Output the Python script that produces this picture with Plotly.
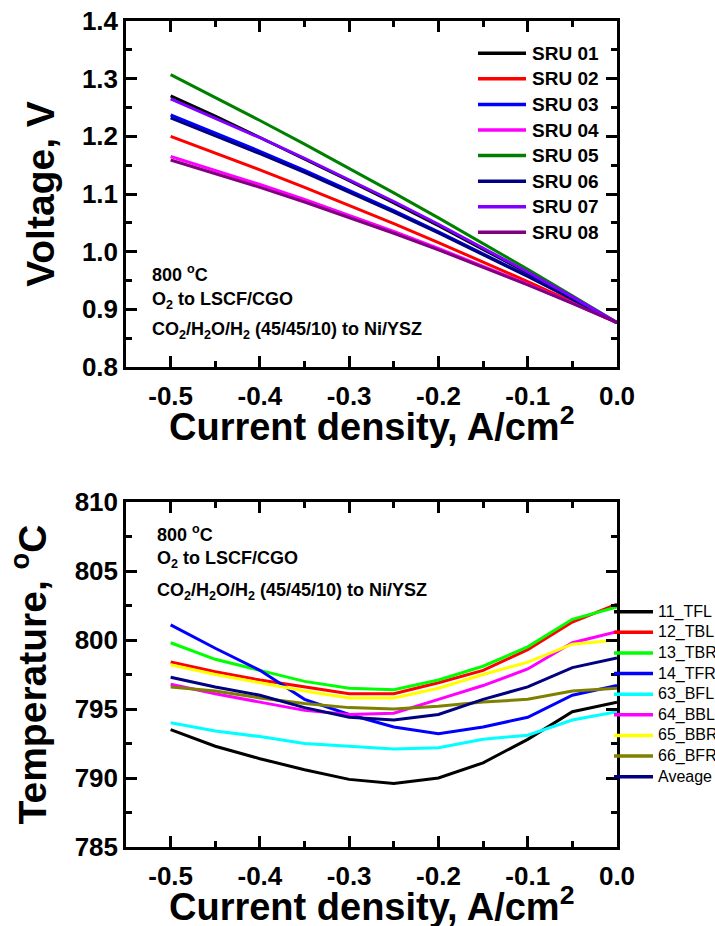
import plotly.graph_objects as go

W, H = 715, 926

# ---------------- data: top panel (voltage) ----------------
j_top = [-0.5, -0.45, -0.4, -0.35, -0.3, -0.25, -0.2, -0.15, -0.1, -0.05, 0.0]
sru_names = ["SRU 01", "SRU 02", "SRU 03", "SRU 04", "SRU 05", "SRU 06", "SRU 07", "SRU 08"]
sru_colors = ["#000000", "#FF0000", "#0000FF", "#FF00FF", "#008000", "#000080", "#8000FF", "#800080"]
sru01 = [1.270, 1.235, 1.198, 1.161, 1.123, 1.0845, 1.045, 1.004, 0.963, 0.920, 0.877]
sru02 = [1.200, 1.1713, 1.1418, 1.1115, 1.0804, 1.0485, 1.0158, 0.9823, 0.948, 0.9129, 0.877]
sru03 = [1.237, 1.206, 1.174, 1.1408, 1.1064, 1.071, 1.0344, 0.9968, 0.958, 0.918, 0.877]
sru04 = [1.165, 1.1412, 1.1164, 1.0904, 1.0632, 1.035, 1.0056, 0.9752, 0.9436, 0.9108, 0.877]
sru05 = [1.307, 1.2676, 1.2274, 1.1864, 1.1446, 1.102, 1.0586, 1.0144, 0.9694, 0.9236, 0.877]
sru06 = [1.232, 1.2015, 1.170, 1.1373, 1.1034, 1.0685, 1.0324, 0.9953, 0.957, 0.9175, 0.877]
sru07 = [1.265, 1.232, 1.1976, 1.162, 1.1252, 1.087, 1.0476, 1.0068, 0.9648, 0.9216, 0.877]
sru08 = [1.159, 1.1358, 1.1116, 1.0862, 1.0596, 1.032, 1.0032, 0.9734, 0.9424, 0.9102, 0.877]
sru_values = [sru01, sru02, sru03, sru04, sru05, sru06, sru07, sru08]

# ---------------- data: bottom panel (temperature) ----------------
j_bot = [-0.5, -0.45, -0.4, -0.35, -0.3, -0.25, -0.2, -0.15, -0.1, -0.05, 0.0]
tc_names = ["11_TFL", "12_TBL", "13_TBR", "14_TFR", "63_BFL", "64_BBL", "65_BBR", "66_BFR", "Aveage"]
tc_colors = ["#000000", "#FF0000", "#00FF00", "#0000FF", "#00FFFF", "#FF00FF", "#FFFF00", "#808000", "#000080"]
t11 = [793.5, 792.3, 791.4, 790.6, 789.9, 789.6, 790.0, 791.1, 792.8, 794.8, 795.5]
t12 = [798.4, 797.7, 797.1, 796.6, 796.1, 796.1, 796.9, 797.8, 799.3, 801.3, 802.6]
t13 = [799.8, 798.6, 797.8, 797.0, 796.5, 796.4, 797.1, 798.1, 799.5, 801.5, 802.4]
t14 = [801.1, 799.4, 797.8, 795.7, 794.6, 793.7, 793.2, 793.7, 794.4, 796.0, 796.7]
t63 = [794.0, 793.4, 793.0, 792.5, 792.3, 792.1, 792.2, 792.8, 793.1, 794.2, 794.8]
t64 = [796.8, 796.1, 795.5, 794.9, 794.6, 794.7, 795.7, 796.7, 797.9, 799.8, 800.6]
t65 = [798.2, 797.5, 796.9, 796.3, 795.8, 795.8, 796.5, 797.5, 798.4, 799.7, 800.0]
t66 = [796.6, 796.3, 795.8, 795.4, 795.1, 795.0, 795.2, 795.5, 795.7, 796.3, 796.5]
tavg = [797.3, 796.6, 796.0, 795.1, 794.4, 794.2, 794.6, 795.7, 796.6, 798.0, 798.7]
tc_values = [t11, t12, t13, t14, t63, t64, t65, t66, tavg]

x_ticks = [-0.5, -0.4, -0.3, -0.2, -0.1, 0.0]
x_ticktext = ["-0.5", "-0.4", "-0.3", "-0.2", "-0.1", "0.0"]
v_ticks = [0.8, 0.9, 1.0, 1.1, 1.2, 1.3, 1.4]
v_ticktext = ["0.8", "0.9", "1.0", "1.1", "1.2", "1.3", "1.4"]
t_ticks = [785, 790, 795, 800, 805, 810]
x_title = "Current density, A/cm<sup>2</sup>"

FONT = "Liberation Sans, Arial, sans-serif"


def px(x):
    return x / W


def py(y):
    return 1 - y / H


fig = go.Figure()
for name, col, vals in zip(sru_names, sru_colors, sru_values):
    fig.add_trace(go.Scatter(x=j_top, y=vals, mode="lines", name=name,
                             line=dict(color=col, width=3), showlegend=False,
                             xaxis="x", yaxis="y"))
for name, col, vals in zip(tc_names, tc_colors, tc_values):
    fig.add_trace(go.Scatter(x=j_bot, y=vals, mode="lines", name=name,
                             line=dict(color=col, width=3), showlegend=False,
                             xaxis="x2", yaxis="y2"))

xdom = [px(126), px(617)]
common_axis = dict(showline=True, linewidth=2.5, linecolor="black", mirror="allticks",
                   ticks="inside", ticklen=11, tickwidth=2.5, tickcolor="black",
                   showgrid=False, zeroline=False, automargin=False,
                   tickfont=dict(family=FONT, size=26, color="black", weight="bold"))
minor_x = dict(dtick=0.05, tick0=0, ticks="inside", ticklen=6, tickwidth=2.5, tickcolor="black")

fig.update_layout(
    width=W, height=H, margin=dict(l=0, r=0, t=0, b=0, autoexpand=False),
    paper_bgcolor="white", plot_bgcolor="white", showlegend=False,
    xaxis=dict(domain=xdom, anchor="y", range=[-0.55, 0.0], tickvals=x_ticks, ticktext=x_ticktext,
               minor=minor_x, ticklabelstandoff=4, **common_axis),
    yaxis=dict(domain=[py(367), py(21)], anchor="x", range=[0.8, 1.4], tickvals=v_ticks, ticktext=v_ticktext,
               minor=dict(dtick=0.05, tick0=0.8, ticks="inside", ticklen=6, tickwidth=2.5, tickcolor="black"),
               title=dict(text="Voltage, V", standoff=16,
                          font=dict(family=FONT, size=39, color="black", weight="bold")),
               **common_axis),
    xaxis2=dict(domain=xdom, anchor="y2", range=[-0.55, 0.0], tickvals=x_ticks, ticktext=x_ticktext,
                minor=minor_x, ticklabelstandoff=4, **common_axis),
    yaxis2=dict(domain=[py(847), py(502)], anchor="x2", range=[785, 810], tickvals=t_ticks,
                minor=dict(dtick=2.5, tick0=785, ticks="inside", ticklen=6, tickwidth=2.5, tickcolor="black"),
                title=dict(text="Temperature, <sup>o</sup>C", standoff=17,
                           font=dict(family=FONT, size=39, color="black", weight="bold")),
                **common_axis),
)

# x-axis titles (placed tight under the tick labels as in the reference)
for yy in [424, 904]:
    fig.add_annotation(text=x_title, xref="paper", yref="paper", x=px(371.5), y=py(yy),
                       xanchor="center", yanchor="middle", showarrow=False,
                       font=dict(family=FONT, size=38, color="black", weight="bold"))

# condition notes
notes = ["800 <sup>o</sup>C", "O<sub>2</sub> to LSCF/CGO", "CO<sub>2</sub>/H<sub>2</sub>O/H<sub>2</sub> (45/45/10) to Ni/YSZ"]
for txt, yy in zip(notes, [273, 300, 330]):
    fig.add_annotation(text=txt, xref="paper", yref="paper", x=px(150), y=py(yy), xanchor="left",
                       yanchor="middle", showarrow=False,
                       font=dict(family=FONT, size=18, color="black", weight="bold"))
for txt, yy in zip(notes, [533, 559, 591]):
    fig.add_annotation(text=txt, xref="paper", yref="paper", x=px(155), y=py(yy), xanchor="left",
                       yanchor="middle", showarrow=False,
                       font=dict(family=FONT, size=18, color="black", weight="bold"))

# legend, top panel (inside)
for i, (name, col) in enumerate(zip(sru_names, sru_colors)):
    yy = 53.3 + i * 25.57
    fig.add_shape(type="line", xref="paper", yref="paper", x0=px(478), x1=px(526), y0=py(yy), y1=py(yy),
                  line=dict(color=col, width=3.5))
    fig.add_annotation(text=name, xref="paper", yref="paper", x=px(530), y=py(yy), xanchor="left",
                       yanchor="middle", showarrow=False,
                       font=dict(family=FONT, size=19, color="black", weight="bold"))

# legend, bottom panel (outside right)
for i, (name, col) in enumerate(zip(tc_names, tc_colors)):
    yy = 611.7 + i * 20.63
    fig.add_shape(type="line", xref="paper", yref="paper", x0=px(614), x1=px(653), y0=py(yy), y1=py(yy),
                  line=dict(color=col, width=3.5))
    fig.add_annotation(text=name, xref="paper", yref="paper", x=px(656), y=py(yy), xanchor="left",
                       yanchor="middle", showarrow=False,
                       font=dict(family=FONT, size=16, color="black"))

fig.write_html("out.html")
